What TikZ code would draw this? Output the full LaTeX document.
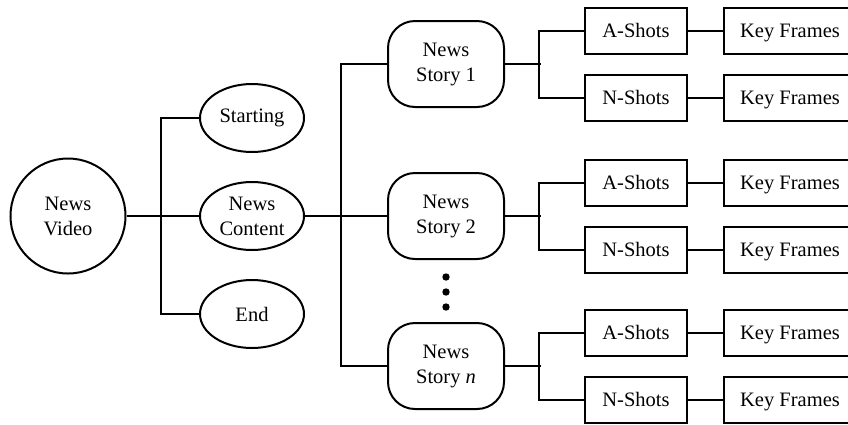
\documentclass[tikz,border=0pt]{standalone}
\usepackage{fontspec}
\setmainfont{Liberation Serif}
\usetikzlibrary{shapes.geometric}

\tikzset{
  wire/.style={line width=2pt},
  labelfont/.style={font=\fontsize{20.5}{25}\selectfont},
  videonode/.style={draw,wire,labelfont,circle,minimum size=115pt,inner sep=0pt,align=center},
  partnode/.style={draw,wire,labelfont,ellipse,minimum width=104pt,minimum height=68pt,inner sep=0pt,align=center},
  storynode/.style={draw,wire,labelfont,rectangle,rounded corners=27pt,minimum width=116pt,minimum height=86pt,inner sep=0pt,align=center},
  shotbox/.style={draw,wire,labelfont,rectangle,minimum width=102pt,minimum height=46pt,inner sep=0pt,text height=16pt,text depth=4pt},
  framebox/.style={shotbox,minimum width=132pt},
}

\begin{document}
\begin{tikzpicture}[x=1pt,y=-1pt]
  \clip (0,0) rectangle (848,424);

  % left part
  \node[videonode] (video) at (68,216) {News\\Video};
  \node[partnode] (starting) at (252,118) {Starting};
  \node[partnode] (content) at (252,216) {News\\Content};
  \node[partnode] (end) at (252,314) {End};

  \draw[wire] (video.east) -- (content.west);
  \draw[wire] (starting.west) -- ++(-38,0) |- (end.west);

  % stories
  \foreach \i/\y/\num in {1/64/1, 2/216/2, n/366/{\textit{n}}} {
    \node[storynode] (story\i) at (446,\y) {News\\Story \num};
    \node[shotbox] (ashots\i) at (636,\y-33) {A-Shots};
    \node[shotbox] (nshots\i) at (636,\y+34) {N-Shots};
    \node[framebox] (akey\i) at (790,\y-33) {Key Frames};
    \node[framebox] (nkey\i) at (790,\y+34) {Key Frames};
    \draw[wire] (story\i.east) -- ++(36,0);
    \draw[wire] (ashots\i.west) -- ++(-45,0) |- (nshots\i.west);
    \draw[wire] (ashots\i) -- (akey\i);
    \draw[wire] (nshots\i) -- (nkey\i);
  }

  \draw[wire] (content.east) -- (story2.west);
  \draw[wire] (story1.west) -- ++(-46,0) |- (storyn.west);

  % dots between story 2 and story n
  \foreach \y in {277,292,307}
    \fill (446,\y) circle (3.7);
\end{tikzpicture}
\end{document}
